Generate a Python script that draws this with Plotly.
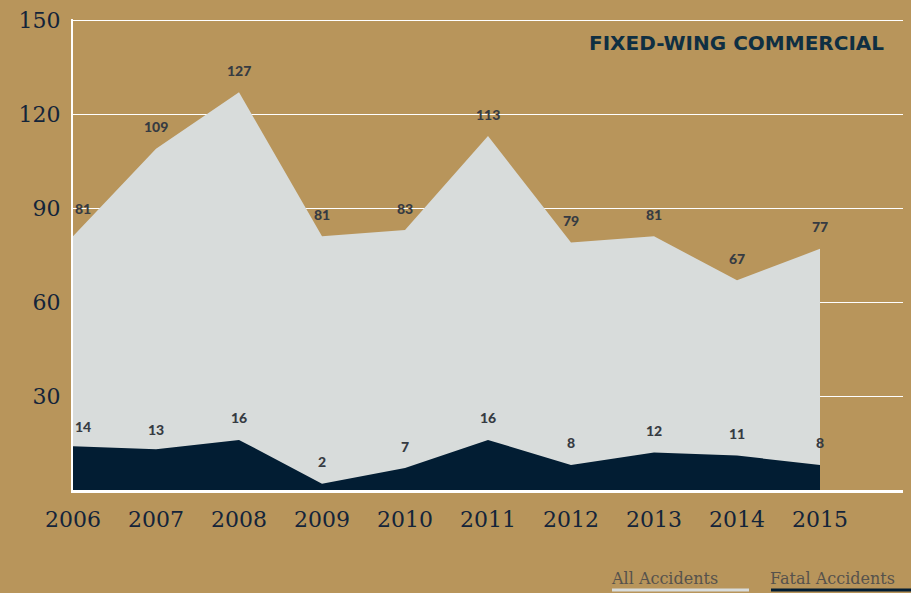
import plotly.graph_objects as go

years = [2006, 2007, 2008, 2009, 2010, 2011, 2012, 2013, 2014, 2015]
all_accidents = [81, 109, 127, 81, 83, 113, 79, 81, 67, 77]
fatal_accidents = [14, 13, 16, 2, 7, 16, 8, 12, 11, 8]
y_ticks = [30, 60, 90, 120, 150]
title_text = "FIXED-WING COMMERCIAL"
legend_labels = ["All Accidents", "Fatal Accidents"]

BG = "#b8955b"
LIGHT = "#d8dcdb"
DARK = "#021d33"
LABEL = "#363b42"
TICK = "#13243a"

W, H = 911, 593
ML, MR, MT, MB = 73, 8, 12, 103
PW, PH = W - ML - MR, H - MT - MB


def px(x):
    return (x - ML) / PW


def py(y):
    return (H - MB - y) / PH


fig = go.Figure()
fig.add_trace(go.Scatter(x=years, y=all_accidents, mode="lines", fill="tozeroy",
                         line=dict(width=0, color=LIGHT), fillcolor=LIGHT,
                         hoverinfo="skip", showlegend=False))
fig.add_trace(go.Scatter(x=years, y=fatal_accidents, mode="lines", fill="tozeroy",
                         line=dict(width=0, color=DARK), fillcolor=DARK,
                         hoverinfo="skip", showlegend=False))

annotations = []
for i, (yr, a, f) in enumerate(zip(years, all_accidents, fatal_accidents)):
    xs = 10 if i == 0 else 0
    for val, ys in ((a, 28 if i == 0 else 22), (f, 20 if i < 2 else 22)):
        annotations.append(dict(x=yr, y=val, text=str(val), showarrow=False,
                                xanchor="center", yanchor="middle", yshift=ys, xshift=xs,
                                font=dict(family="Lato", size=14, color=LABEL, weight=900)))

annotations.append(dict(x=px(886), y=py(36), xref="paper", yref="paper", text=title_text,
                        showarrow=False, xanchor="right", yanchor="middle",
                        font=dict(family="DejaVu Sans", size=20, color="#0f2f42", weight="bold")))

legend_x = [612, 771]
for lbl, x0 in zip(legend_labels, legend_x):
    annotations.append(dict(x=px(x0), y=py(580), xref="paper", yref="paper",
                            text=lbl, showarrow=False, xanchor="left", yanchor="middle",
                            xshift=-3,
                            font=dict(family="DejaVu Serif", size=16, color="#56524c")))

shapes = [
    dict(type="rect", xref="paper", yref="paper", x0=px(612), x1=px(749),
         y0=py(593), y1=py(590), fillcolor=LIGHT, line=dict(width=0), layer="above"),
    dict(type="rect", xref="paper", yref="paper", x0=px(771), x1=px(911),
         y0=py(593), y1=py(590), fillcolor=DARK, line=dict(width=0), layer="above"),
]

fig.update_layout(
    width=W, height=H,
    paper_bgcolor=BG, plot_bgcolor="rgba(0,0,0,0)",
    margin=dict(l=ML, r=MR, t=MT, b=MB),
    showlegend=False,
    annotations=annotations,
    shapes=shapes,
    xaxis=dict(range=[2006, 2016], tickvals=years, ticktext=[str(y) for y in years],
               showgrid=False, zeroline=False, showline=True, linecolor="white", linewidth=3,
               ticks="", ticklabelstandoff=8,
               tickfont=dict(family="DejaVu Serif", size=22, color=TICK)),
    yaxis=dict(range=[0, 150.4], tickvals=y_ticks, showgrid=True, gridcolor="white", gridwidth=1,
               zeroline=False, showline=True, linecolor="white", linewidth=2,
               ticks="", ticklabelstandoff=6,
               tickfont=dict(family="DejaVu Serif", size=22, color=TICK)),
)
fig.layout.xaxis.layer = "above traces"
fig.layout.yaxis.layer = "above traces"

fig.write_html("out.html", config={"displayModeBar": False},
               post_script="document.body.style.margin='0';document.body.style.overflow='hidden';")
